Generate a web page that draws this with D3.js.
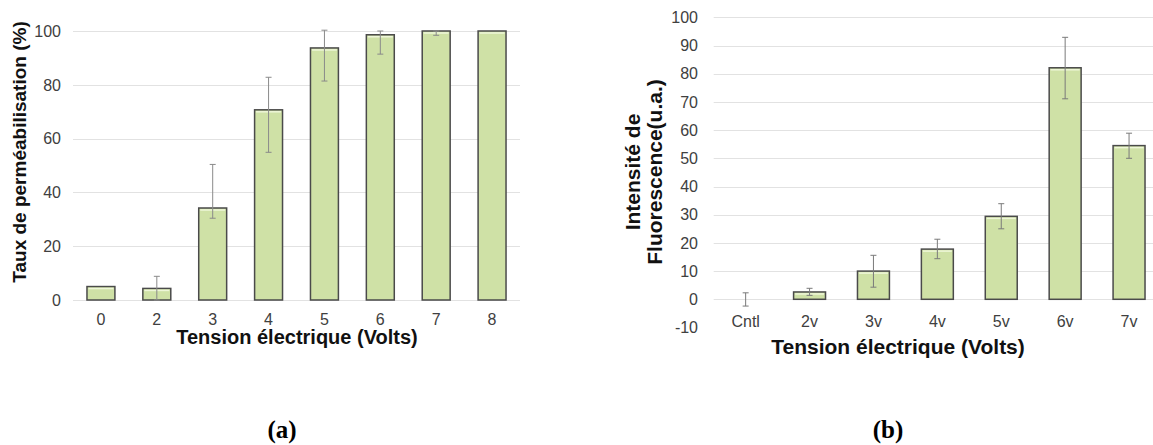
<!DOCTYPE html>
<html><head><meta charset="utf-8">
<script src="https://cdn.jsdelivr.net/npm/d3@7"></script>
<style>
html,body{margin:0;padding:0;background:#fff;}
svg{display:block;font-family:"Liberation Sans",Arial,sans-serif;}
</style></head>
<body>
<svg id="c" width="1153" height="445"></svg>
<script>
// Chart (a)
const catsA = ["0","2","3","4","5","6","7","8"];
const valsA = [5, 4.3, 34.2, 70.7, 93.7, 98.6, 100, 100];
const loA   = [5, 0, 30.4, 54.9, 81.4, 91.4, 98.4, 100];
const hiA   = [5, 8.8, 50.4, 82.8, 100.3, 100, 100, 100];
const ticksA = [0, 20, 40, 60, 80, 100];

// Chart (b)
const catsB = ["Cntl","2v","3v","4v","5v","6v","7v"];
const valsB = [0, 2.6, 10.0, 17.8, 29.4, 82.1, 54.5];
const loB   = [-2.4, 1.4, 4.3, 14.4, 25.0, 71.1, 50.0];
const hiB   = [2.3, 3.9, 15.6, 21.3, 33.9, 92.9, 58.9];
const ticksB = [-10, 0, 10, 20, 30, 40, 50, 60, 70, 80, 90, 100];
const gridB = [0, 10, 20, 30, 40, 50, 60, 70, 80, 90, 100];

const svg = d3.select("#c");
const BAR = "#cfe1a6", STROKE = "#4a4a4a", GRID = "#e2e2e2", TICK = "#404040";

function panel(o) {
  const g = svg.append("g");
  const x = d3.scaleBand().domain(o.cats).range(o.xr).paddingInner(0.5).paddingOuter(0.25);
  const y = d3.scaleLinear().domain(o.yd).range(o.yr);
  g.selectAll("line.grid").data(o.grid).join("line")
    .attr("x1", o.xr[0]).attr("x2", o.gridEnd)
    .attr("y1", d => Math.round(y(d)) + 0.5).attr("y2", d => Math.round(y(d)) + 0.5)
    .attr("stroke", GRID).attr("stroke-width", 1);
  g.selectAll("text.yt").data(o.ticks).join("text")
    .attr("x", o.yLabelX).attr("y", d => y(d)).attr("dy", "0.36em")
    .attr("text-anchor", "end").attr("font-size", 16).attr("fill", TICK)
    .text(d => d);
  const idx = d3.range(o.cats.length);
  g.selectAll("rect.bar").data(idx.filter(i => o.vals[i] !== 0)).join("rect")
    .attr("x", i => x(o.cats[i])).attr("width", x.bandwidth())
    .attr("y", i => y(Math.max(0, o.vals[i])))
    .attr("height", i => Math.abs(y(o.vals[i]) - y(0)))
    .attr("fill", BAR).attr("stroke", STROKE).attr("stroke-width", 1.5);
  g.selectAll("line.hl").data(idx.filter(i => o.vals[i] > 1)).join("line")
    .attr("x1", i => x(o.cats[i]) + 1.5).attr("x2", i => x(o.cats[i]) + x.bandwidth() - 1.5)
    .attr("y1", i => y(o.vals[i]) + 2).attr("y2", i => y(o.vals[i]) + 2)
    .attr("stroke", "#eef6d8").attr("stroke-width", 1.5);
  const eb = idx.filter(i => o.lo[i] !== o.hi[i]);
  const cx = i => x(o.cats[i]) + x.bandwidth() / 2;
  const ge = g.append("g").attr("stroke", o.errColor).attr("stroke-width", 1);
  ge.selectAll("line.v").data(eb).join("line")
    .attr("x1", cx).attr("x2", cx)
    .attr("y1", i => y(o.lo[i])).attr("y2", i => y(o.hi[i]));
  ge.selectAll("line.t").data(eb).join("line")
    .attr("x1", i => cx(i) - 3).attr("x2", i => cx(i) + 3)
    .attr("y1", i => y(o.hi[i])).attr("y2", i => y(o.hi[i]));
  ge.selectAll("line.b").data(eb).join("line")
    .attr("x1", i => cx(i) - 3).attr("x2", i => cx(i) + 3)
    .attr("y1", i => y(o.lo[i])).attr("y2", i => y(o.lo[i]));
  g.selectAll("text.xt").data(o.cats).join("text")
    .attr("x", d => x(d) + x.bandwidth() / 2).attr("y", o.xLabelY)
    .attr("text-anchor", "middle").attr("font-size", 16).attr("fill", TICK)
    .text(d => d);
  g.append("text").attr("x", o.xTitleX).attr("y", o.xTitleY)
    .attr("text-anchor", "middle").attr("font-size", o.xTitleSize).attr("font-weight", "bold")
    .attr("fill", "#111").text("Tension électrique (Volts)");
  return g;
}

const ga = panel({cats: catsA, vals: valsA, lo: loA, hi: hiA, ticks: ticksA, grid: ticksA,
  xr: [73, 520], gridEnd: 520, yd: [0, 100], yr: [300, 31], yLabelX: 61,
  xLabelY: 325, xTitleX: 297, xTitleY: 344, xTitleSize: 20, errColor: "#8a8a8a"});
ga.append("text").attr("transform", "translate(26,152) rotate(-90)")
  .attr("text-anchor", "middle").attr("font-size", 19).attr("font-weight", "bold")
  .attr("fill", "#111").text("Taux de perméabilisation (%)");

const gb = panel({cats: catsB, vals: valsB, lo: loB, hi: hiB, ticks: ticksB, grid: gridB,
  xr: [713.7, 1161], gridEnd: 1153, yd: [-10, 100], yr: [327.5, 17.3], yLabelX: 698,
  xLabelY: 327, xTitleX: 898, xTitleY: 354, xTitleSize: 21, errColor: "#7a7a7a"});
const yt = gb.append("text").attr("transform", "rotate(-90)")
  .attr("text-anchor", "middle").attr("font-size", 21).attr("font-weight", "bold").attr("fill", "#111");
yt.append("tspan").attr("x", -172).attr("y", 640).text("Intensité de");
yt.append("tspan").attr("x", -172).attr("y", 662).text("Fluorescence(u.a.)");

const cap = (t, cx) => svg.append("text").attr("x", cx).attr("y", 438).attr("text-anchor", "middle")
  .attr("font-family", "'Liberation Serif','Times New Roman',serif").attr("font-weight", "bold")
  .attr("font-size", 25).text(t);
cap("(a)", 282);
cap("(b)", 888);
</script>
</body></html>
